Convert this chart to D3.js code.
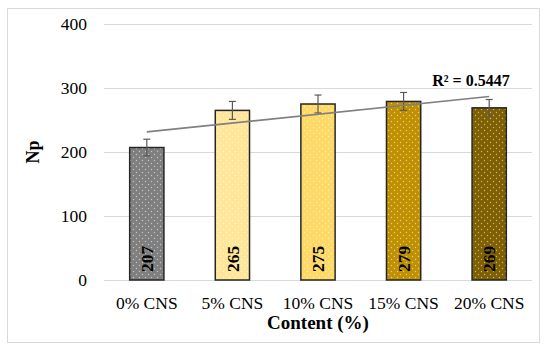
<!DOCTYPE html>
<html>
<head>
<meta charset="utf-8">
<script src="https://cdn.jsdelivr.net/npm/d3@7"></script>
<style>
  body { margin: 0; background: #fff; }
  text { font-family: "Liberation Serif", "Times New Roman", serif; fill: #000; }
</style>
</head>
<body>
<div class="graph-card"></div>
<script>
// data
var categories = ["0% CNS", "5% CNS", "10% CNS", "15% CNS", "20% CNS"];
var values = [207, 265, 275, 279, 269];
var errors = [13, 14, 14, 14, 13];
var barColors = ["#7f7f7f", "#ffe699", "#ffd966", "#bf9000", "#7f6000"];
var yTicks = [0, 100, 200, 300, 400];
var r2Label = "R\u00b2 = 0.5447";

var W = 550, H = 344;
var plot = {left: 104, right: 532, top: 24, bottom: 280};

var svg = d3.select(".graph-card").append("svg")
    .attr("width", W)
    .attr("height", H);

// dotted fill patterns, one per bar colour
var defs = svg.append("defs");
barColors.forEach(function(c, i) {
    var p = defs.append("pattern")
        .attr("id", "dots" + i)
        .attr("patternUnits", "userSpaceOnUse")
        .attr("width", 6)
        .attr("height", 6);
    p.append("rect").attr("width", 6).attr("height", 6).attr("fill", c);
    p.append("circle").attr("cx", 1.5).attr("cy", 1.5).attr("r", 0.7)
        .attr("fill", "#fff").attr("opacity", 0.55);
    p.append("circle").attr("cx", 4.5).attr("cy", 4.5).attr("r", 0.7)
        .attr("fill", "#fff").attr("opacity", 0.55);
});

// outer frame
svg.append("rect")
    .attr("x", 7.5).attr("y", 8.5)
    .attr("width", 532).attr("height", 334)
    .attr("fill", "none")
    .attr("stroke", "#d9d9d9");

// scales
var x = d3.scaleBand().domain(categories).range([plot.left, plot.right]).paddingInner(0.6).paddingOuter(0.3);
var y = d3.scaleLinear().domain([0, 400]).range([plot.bottom, plot.top]);

// gridlines
svg.append("g").selectAll("line")
    .data(yTicks)
    .enter().append("line")
    .attr("x1", plot.left).attr("x2", plot.right)
    .attr("y1", function(d) { return y(d) + 0.5; })
    .attr("y2", function(d) { return y(d) + 0.5; })
    .attr("stroke", "#d9d9d9")
    .attr("stroke-width", 1);

// y axis labels
var yAxis = svg.append("g")
    .attr("transform", "translate(" + (plot.left - 17) + ",0)")
    .call(d3.axisLeft(y).tickValues(yTicks).tickSize(0).tickPadding(0));
yAxis.select(".domain").remove();
yAxis.selectAll("text")
    .style("font-family", "Liberation Serif")
    .style("font-size", "17.5px")
    .attr("fill", "#000");

// bars
svg.selectAll("rect.bar")
    .data(values)
    .enter().append("rect")
    .attr("class", "bar")
    .attr("x", function(d, i) { return x(categories[i]); })
    .attr("y", function(d) { return y(d); })
    .attr("width", x.bandwidth())
    .attr("height", function(d) { return y(0) - y(d); })
    .attr("fill", function(d, i) { return "url(#dots" + i + ")"; })
    .attr("stroke", "#262626")
    .attr("stroke-width", 1.5);

// error bars
var eb = svg.append("g").attr("stroke", "#595959").attr("stroke-width", 1.2);
values.forEach(function(v, i) {
    var cx = x(categories[i]) + x.bandwidth() / 2;
    eb.append("line").attr("x1", cx).attr("x2", cx)
        .attr("y1", y(v + errors[i])).attr("y2", y(v - errors[i]));
    [v + errors[i], v - errors[i]].forEach(function(e) {
        eb.append("line").attr("x1", cx - 3.5).attr("x2", cx + 3.5)
            .attr("y1", y(e)).attr("y2", y(e));
    });
});

// linear trendline (least squares over category index)
var n = values.length,
    mx = d3.mean(values, function(d, i) { return i; }),
    my = d3.mean(values);
var slope = d3.sum(values, function(d, i) { return (i - mx) * (d - my); }) /
            d3.sum(values, function(d, i) { return (i - mx) * (i - mx); });
var icpt = my - slope * mx;
svg.append("line")
    .attr("x1", x(categories[0]) + x.bandwidth() / 2)
    .attr("x2", x(categories[n - 1]) + x.bandwidth() / 2)
    .attr("y1", y(icpt))
    .attr("y2", y(icpt + slope * (n - 1)))
    .attr("stroke", "#808080")
    .attr("stroke-width", 1.6);

svg.append("text")
    .attr("x", 471).attr("y", 86)
    .style("text-anchor", "middle")
    .style("font-size", "16px")
    .style("font-weight", "bold")
    .text(r2Label);

// value labels, rotated inside the bars
svg.selectAll("text.val")
    .data(values)
    .enter().append("text")
    .attr("class", "val")
    .attr("transform", function(d, i) {
        return "translate(" + (x(categories[i]) + x.bandwidth() / 2) + "," + (y(0) - 8) + ") rotate(-90)";
    })
    .attr("dy", "0.35em")
    .style("font-size", "17.5px")
    .style("font-weight", "bold")
    .text(function(d) { return d; });

// x category labels
svg.selectAll("text.cat")
    .data(categories)
    .enter().append("text")
    .attr("class", "cat")
    .attr("x", function(d) { return x(d) + x.bandwidth() / 2; })
    .attr("y", 309)
    .style("text-anchor", "middle")
    .style("font-size", "17.5px")
    .text(function(d) { return d; });

// axis titles
svg.append("text")
    .attr("x", (plot.left + plot.right) / 2)
    .attr("y", 329)
    .style("text-anchor", "middle")
    .style("font-size", "19px")
    .style("font-weight", "bold")
    .text("Content (%)");

svg.append("text")
    .attr("transform", "translate(33," + 152 + ") rotate(-90)")
    .attr("dy", "0.35em")
    .style("text-anchor", "middle")
    .style("font-size", "18px")
    .style("font-weight", "bold")
    .text("Np");
</script>
</body>
</html>
